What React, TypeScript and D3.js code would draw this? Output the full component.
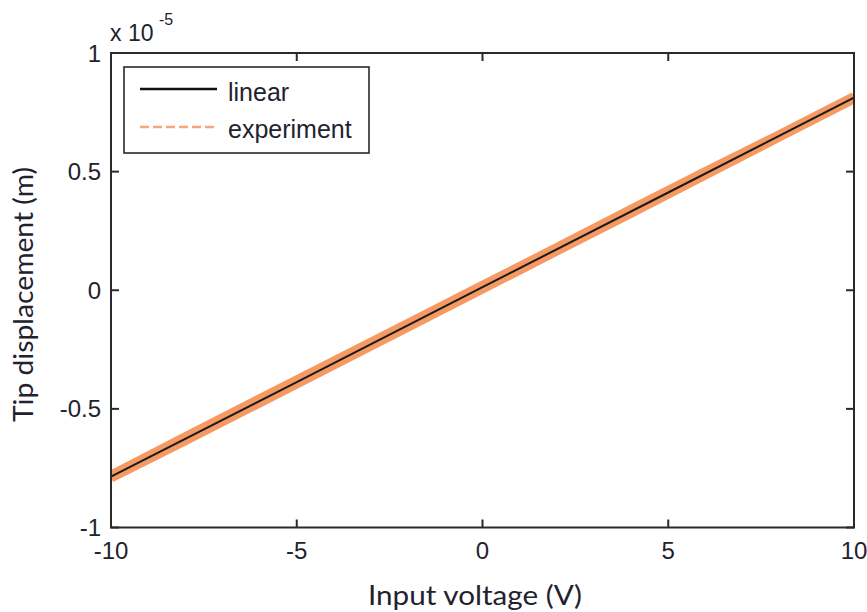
import React from "react";
import * as d3 from "d3";

// Data (displacement in units of 1e-5 m)
const linearVoltage = [-10, -5, 0, 5, 10];
const linearDisp = [-0.786, -0.387, 0.013, 0.412, 0.812];

const expVoltageUp = [-10, -8, -6, -4, -2, 0, 2, 4, 6, 8, 10];
const expDispUp = [-0.790, -0.633, -0.474, -0.314, -0.154, 0.006, 0.166, 0.326, 0.487, 0.648, 0.808];
const expVoltageDown = [10, 8, 6, 4, 2, 0, -2, -4, -6, -8, -10];
const expDispDown = [0.816, 0.656, 0.499, 0.340, 0.179, 0.020, -0.140, -0.299, -0.458, -0.618, -0.780];

const xTicks = [-10, -5, 0, 5, 10];
const yTicks = [-1, -0.5, 0, 0.5, 1];
const yTickLabels = ["-1", "-0.5", "0", "0.5", "1"];

const W = 867;
const H = 612;
const L = 111, R = 854, T = 53, B = 527.5;

const textColor = "#22222e";
const axisColor = "#2a2a2a";
const orange = "#f69a63";
const orangeLegend = "#f7a57a";

export default function App() {
  const x = d3.scaleLinear().domain([-10, 10]).range([L, R]);
  const y = d3.scaleLinear().domain([-1, 1]).range([B, T]);
  const line = d3
    .line<[number, number]>()
    .x((d) => x(d[0]))
    .y((d) => y(d[1]));

  const linPts: [number, number][] = linearVoltage.map((v, i) => [v, linearDisp[i]]);
  const upPts: [number, number][] = expVoltageUp.map((v, i) => [v, expDispUp[i]]);
  const downPts: [number, number][] = expVoltageDown.map((v, i) => [v, expDispDown[i]]);

  const tickFont = "'Liberation Sans', Arial, sans-serif";
  const labelFont = "Lato, 'Open Sans', sans-serif";

  return (
    <svg
      width={W}
      height={H}
      style={{ position: "absolute", left: 0, top: 0, background: "#fff" }}
    >
      <defs>
        <clipPath id="plotclip">
          <rect x={L} y={T} width={R - L} height={B - T} />
        </clipPath>
      </defs>
      <rect x={0} y={0} width={W} height={H} fill="#fff" />

      {/* data */}
      <g clipPath="url(#plotclip)">
        <path d={line(upPts) || ""} fill="none" stroke={orange} strokeWidth={9.5} />
        <path d={line(downPts) || ""} fill="none" stroke={orange} strokeWidth={9.5} />
        <path d={line(linPts) || ""} fill="none" stroke="#1a1a1a" strokeWidth={2} />
      </g>

      {/* axes box */}
      <rect x={L} y={T} width={R - L} height={B - T} fill="none" stroke={axisColor} strokeWidth={2} />

      {/* x ticks */}
      {xTicks.map((t) => (
        <g key={"xt" + t}>
          <line x1={x(t)} x2={x(t)} y1={B} y2={B - 8} stroke={axisColor} strokeWidth={2} />
          <line x1={x(t)} x2={x(t)} y1={T} y2={T + 8} stroke={axisColor} strokeWidth={2} />
          <text
            x={x(t)}
            y={559}
            textAnchor="middle"
            fontFamily={tickFont}
            fontSize={24}
            fill={textColor}
          >
            {String(t)}
          </text>
        </g>
      ))}

      {/* y ticks */}
      {yTicks.map((t, i) => (
        <g key={"yt" + t}>
          <line x1={L} x2={L + 8} y1={y(t)} y2={y(t)} stroke={axisColor} strokeWidth={2} />
          <line x1={R} x2={R - 8} y1={y(t)} y2={y(t)} stroke={axisColor} strokeWidth={2} />
          <text
            x={101}
            y={y(t) + 8.5}
            textAnchor="end"
            fontFamily={tickFont}
            fontSize={24}
            fill={textColor}
          >
            {yTickLabels[i]}
          </text>
        </g>
      ))}

      {/* exponent */}
      <text x={110} y={41} fontFamily={tickFont} fontSize={23} fill={textColor}>
        x 10
      </text>
      <text x={159} y={25} fontFamily={tickFont} fontSize={16} fill={textColor}>
        -5
      </text>

      {/* axis labels */}
      <text
        x={475}
        y={605}
        textAnchor="middle"
        fontFamily={labelFont}
        fontSize={27}
        fill={textColor}
        textLength={214}
        lengthAdjust="spacingAndGlyphs"
      >
        Input voltage (V)
      </text>
      <text
        transform={`translate(33,294.5) rotate(-90)`}
        textAnchor="middle"
        fontFamily={labelFont}
        fontSize={26}
        fill={textColor}
        textLength={255}
        lengthAdjust="spacingAndGlyphs"
      >
        Tip displacement (m)
      </text>

      {/* legend */}
      <rect x={124} y={67} width={245} height={86} fill="#fff" stroke={axisColor} strokeWidth={1.6} />
      <line x1={140} x2={217} y1={89} y2={89} stroke="#111" strokeWidth={2.5} />
      <line x1={140} x2={217} y1={127} y2={127} stroke={orangeLegend} strokeWidth={2.5} strokeDasharray="9 4" />
      <text x={228} y={100.5} fontFamily={tickFont} fontSize={25} fill={textColor}>
        linear
      </text>
      <text x={228} y={138} fontFamily={tickFont} fontSize={25} fill={textColor}>
        experiment
      </text>
    </svg>
  );
}
